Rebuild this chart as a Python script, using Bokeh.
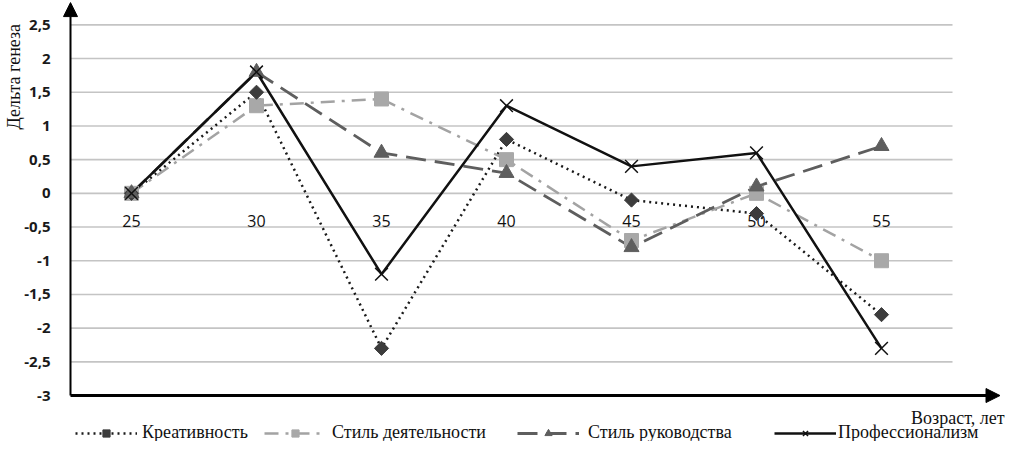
from bokeh.plotting import figure
from bokeh.models import Arrow, NormalHead, Label, Legend, LegendItem
from bokeh.core.properties import value
from bokeh.embed import file_html
from bokeh.resources import INLINE
import math

# ---- data ----
ages = [25, 30, 35, 40, 45, 50, 55]
age_labels = ["25", "30", "35", "40", "45", "50", "55"]
kreativnost = [0, 1.5, -2.3, 0.8, -0.1, -0.3, -1.8]
stil_deyat = [0, 1.3, 1.4, 0.5, -0.7, 0.0, -1.0]
stil_ruk = [0, 1.8, 0.6, 0.3, -0.8, 0.1, 0.7]
profi = [0, 1.8, -1.2, 1.3, 0.4, 0.6, -2.3]
y_ticks = [-3, -2.5, -2, -1.5, -1, -0.5, 0, 0.5, 1, 1.5, 2, 2.5]
y_tick_labels = ["-3", "-2,5", "-2", "-1,5", "-1", "-0,5", "0", "0,5", "1", "1,5", "2", "2,5"]
series_names = ["Креативность", "Стиль деятельности", "Стиль руководства", "Профессионализм"]
y_title = "Дельта генеза"
x_title = "Возраст, лет"

# view geometry (frame fills the whole canvas)
X_LO, X_HI = 19.76, 59.96
Y_LO, Y_HI = -3.682, 2.861
X_AXIS = 22.56          # where the value axis sits
Y_AXIS = -3.0           # where the category axis line sits
X_ARROW_END = 59.74
Y_ARROW_END = 2.83
GRID_END = 57.84

p = figure(width=1005, height=441, output_backend="svg", toolbar_location=None,
           x_range=(X_LO, X_HI), y_range=(Y_LO, Y_HI),
           min_border=0, min_border_left=0, min_border_right=0,
           min_border_top=0, min_border_bottom=0)
p.outline_line_color = None
p.xgrid.visible = False
p.ygrid.visible = False
p.xaxis.visible = False
p.yaxis.visible = False

# horizontal gridlines
p.segment(x0=[X_AXIS] * (len(y_ticks) - 1), x1=[GRID_END] * (len(y_ticks) - 1),
          y0=y_ticks[1:], y1=y_ticks[1:], line_color="#c4c4c4", line_width=1.6)

# axis lines with arrows
p.add_layout(Arrow(x_start=X_AXIS, y_start=Y_AXIS, x_end=X_AXIS, y_end=Y_ARROW_END,
                   line_width=2, line_color="black",
                   end=NormalHead(size=14, fill_color="black", line_color="black")))
p.add_layout(Arrow(x_start=X_AXIS, y_start=Y_AXIS, x_end=X_ARROW_END, y_end=Y_AXIS,
                   line_width=3, line_color="black",
                   end=NormalHead(size=14, fill_color="black", line_color="black")))

# y tick labels
p.text(x=[X_AXIS] * len(y_ticks), y=y_ticks, text=y_tick_labels, x_offset=-20,
       text_align="right", text_baseline="middle",
       text_font=value("Open Sans"), text_font_style="bold", text_font_size="15px",
       text_color="#1a1a1a")

# category labels along zero line
p.text(x=ages, y=[0] * len(ages), text=age_labels, y_offset=28,
       text_align="center", text_baseline="middle",
       text_font=value("Open Sans"), text_font_size="16px", text_color="#111111")

# series
l1 = p.line(ages, kreativnost, line_color="#1a1a1a", line_width=2.5, line_dash="2 4")
l2 = p.line(ages, stil_deyat, line_color="#a3a3a3", line_width=2.5, line_dash="14 7 3 7")
l3 = p.line(ages, stil_ruk, line_color="#5e5e5e", line_width=2.8, line_dash="20 9")
l4 = p.line(ages, profi, line_color="#111111", line_width=2.5)
m2 = p.scatter(ages, stil_deyat, marker="square", size=14, fill_color="#a8a8a8", line_color="#a8a8a8")
m1 = p.scatter(ages, kreativnost, marker="square", angle=math.pi / 4, size=10,
               fill_color="#3c3c3c", line_color="#3c3c3c")
m3 = p.scatter(ages, stil_ruk, marker="triangle", size=15, fill_color="#5e5e5e", line_color="#5e5e5e")
m4 = p.scatter(ages, profi, marker="x", size=18, line_color="#111111", line_width=1.5)

# titles
p.add_layout(Label(x=20.3, y=1.73, text=y_title, angle=math.pi / 2,
                   text_align="center", text_baseline="middle",
                   text_font="Liberation Serif", text_font_size="18px", text_color="#111111"))
p.add_layout(Label(x=59.92, y=-3.326, text=x_title, text_align="right", text_baseline="middle",
                   text_font="Liberation Serif", text_font_size="18px", text_color="#111111"))

# legend: one entry per block so each sits where the reference puts it
legend_rows = [(series_names[0], [l1, m1], 75, 5),
               (series_names[1], [l2, m2], 264, 6),
               (series_names[2], [l3, m3], 517, 9),
               (series_names[3], [l4, m4], 774, 2)]
for name, rends, lx, standoff in legend_rows:
    lg = Legend(items=[LegendItem(label=name, renderers=rends)],
                orientation="horizontal", location=(lx, -2),
                glyph_width=62, glyph_height=18, label_height=18, label_standoff=standoff,
                padding=0, margin=0, border_line_color=None, background_fill_alpha=0,
                label_text_font="Liberation Serif", label_text_font_size="18px",
                label_text_color="#111111")
    p.add_layout(lg, "center")

open("out.html", "w").write(file_html(p, INLINE))
